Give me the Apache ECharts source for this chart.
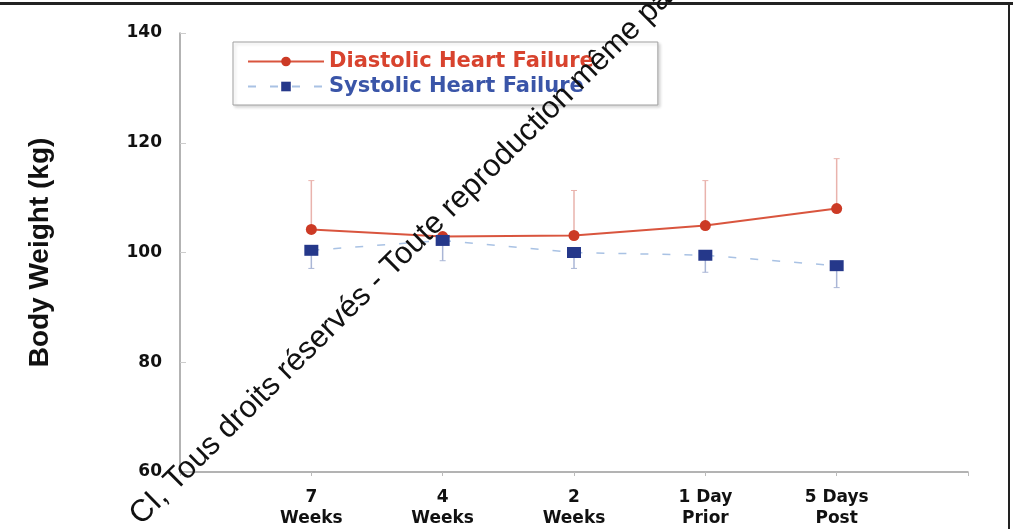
<!DOCTYPE html>
<html>
<head>
<meta charset="utf-8">
<script src="https://cdn.jsdelivr.net/npm/echarts@6/dist/echarts.min.js"></script>
<style>
  html, body { margin: 0; padding: 0; background: #fff; }
  #chart { width: 1013px; height: 529px; }
</style>
</head>
<body>
<div id="chart"></div>
<script>
// x positions 1..5 on a 0..6 value axis
const timeLabels = ['7\nWeeks', '4\nWeeks', '2\nWeeks', '1 Day\nPrior', '5 Days\nPost'];
const yTicks = [60, 80, 100, 120, 140];

const diastolic = [104.2, 102.9, 103.1, 104.9, 108.0];
const systolic = [100.4, 102.2, 100.0, 99.5, 97.6];
// red bars go up only, blue bars go down only (null = not visible)
const diastolicUpper = [113.1, null, 111.3, 113.1, 117.1];
const systolicLower = [97.1, 98.5, 97.1, 96.4, 93.6];

const toPairs = arr => arr.map((v, i) => [i + 1, v]);

const errSeries = (name, mean, ends, color) => ({
  name: name,
  type: 'custom',
  silent: true,
  z: 1,
  data: mean.map((v, i) => [i + 1, v, ends[i]]).filter(d => d[2] != null),
  renderItem: function (params, api) {
    const a = api.coord([api.value(0), api.value(1)]);
    const b = api.coord([api.value(0), api.value(2)]);
    return {
      type: 'group',
      children: [
        { type: 'line', shape: { x1: a[0], y1: a[1], x2: b[0], y2: b[1] }, style: { stroke: color, lineWidth: 1.5 } },
        { type: 'line', shape: { x1: b[0] - 3, y1: b[1], x2: b[0] + 3, y2: b[1] }, style: { stroke: color, lineWidth: 1 } }
      ]
    };
  }
});

const chart = echarts.init(document.getElementById('chart'));

chart.setOption({
  animation: false,
  backgroundColor: '#fff',
  grid: { left: 180, right: 45, top: 33, bottom: 57 },
  legend: {
    left: 233,
    top: 42,
    orient: 'vertical',
    padding: [9, 64, 8, 14],
    itemGap: 4,
    itemWidth: 76,
    itemHeight: 12,
    borderColor: '#a0a0a0',
    borderWidth: 1,
    backgroundColor: '#fff',
    shadowColor: 'rgba(0,0,0,0.15)',
    shadowBlur: 3,
    shadowOffsetX: 2,
    shadowOffsetY: 2,
    textStyle: { fontFamily: 'DejaVu Sans', fontWeight: 'bold', fontSize: 21 },
    data: [
      { name: 'Diastolic Heart Failure', textStyle: { color: '#d8432e' } },
      { name: 'Systolic Heart Failure', textStyle: { color: '#3a55a8' } }
    ]
  },
  xAxis: {
    type: 'value',
    min: 0,
    max: 6,
    interval: 1,
    splitLine: { show: false },
    axisLine: { lineStyle: { color: '#9a9a9a', width: 1.5 } },
    axisTick: { inside: false, length: 4, lineStyle: { color: '#bbb' } },
    axisLabel: {
      margin: 15,
      color: '#111',
      fontFamily: 'DejaVu Sans',
      fontWeight: 'bold',
      fontSize: 17,
      lineHeight: 21,
      formatter: v => timeLabels[v - 1] || ''
    }
  },
  yAxis: {
    type: 'value',
    min: yTicks[0],
    max: yTicks[yTicks.length - 1],
    interval: 20,
    name: 'Body Weight (kg)',
    nameLocation: 'middle',
    nameGap: 126,
    nameTextStyle: {
      fontFamily: 'Liberation Sans',
      fontWeight: 'bold',
      fontSize: 28,
      color: '#111'
    },
    splitLine: { show: false },
    axisLine: { show: true, lineStyle: { color: '#9a9a9a', width: 1.5 } },
    axisTick: { inside: true, length: 6, lineStyle: { color: '#ccc' } },
    axisLabel: {
      margin: 18,
      color: '#111',
      fontFamily: 'DejaVu Sans',
      fontWeight: 'bold',
      fontSize: 17
    }
  },
  series: [
    errSeries('diaErr', diastolic, diastolicUpper, '#e9b3ad'),
    errSeries('sysErr', systolic, systolicLower, '#aab6d6'),
    {
      name: 'Diastolic Heart Failure',
      type: 'line',
      z: 3,
      data: toPairs(diastolic),
      symbol: 'circle',
      symbolSize: 11,
      itemStyle: { color: '#cc3a25' },
      lineStyle: { color: '#d9553e', width: 2 }
    },
    {
      name: 'Systolic Heart Failure',
      type: 'line',
      z: 4,
      data: toPairs(systolic),
      symbol: 'rect',
      symbolSize: [14, 11],
      itemStyle: { color: '#25388a' },
      lineStyle: { color: '#a9c2e4', width: 1.5, type: [8, 14] }
    }
  ],
  graphic: [
    { type: 'rect', shape: { x: 0, y: 2, width: 1013, height: 3 }, style: { fill: '#222' }, z: 100 },
    { type: 'rect', shape: { x: 1008, y: 2, width: 2, height: 527 }, style: { fill: '#222' }, z: 100 },
    {
      type: 'text',
      x: 146,
      y: 531,
      rotation: 0.78,
      z: 100,
      style: {
        text: 'CI, Tous droits réservés - Toute reproduction même partielle interdite',
        fontFamily: 'Liberation Sans',
        fontSize: 31,
        fill: '#111',
        textAlign: 'left',
        textVerticalAlign: 'bottom'
      }
    }
  ]
});
</script>
</body>
</html>
